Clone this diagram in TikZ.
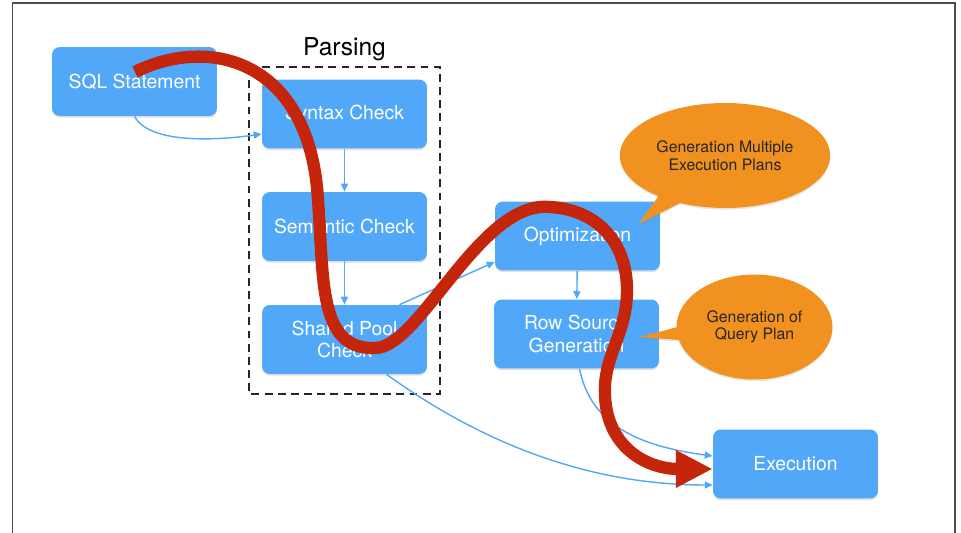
\documentclass[tikz,border=0pt]{standalone}
\usepackage{fontspec}
\setmainfont{TeX Gyre Heros}
\usepackage{xcolor}
\usepackage{tikz}
\usetikzlibrary{positioning,arrows.meta,shapes.callouts,shadows}

\definecolor{stageblue}{RGB}{82,168,248}
\definecolor{noteorange}{RGB}{241,145,32}
\definecolor{pathred}{RGB}{197,37,10}

\begin{document}
\begin{tikzpicture}[
  x=0.02cm, y=-0.02cm,
  stage/.style={rectangle, rounded corners=4.5pt, fill=stageblue,
    minimum width=3.3cm, minimum height=1.38cm, align=center,
    text=white, font=\fontsize{11}{13}\selectfont,
    drop shadow={opacity=0.25, shadow xshift=0pt, shadow yshift=-1pt}},
  bubble/.style={ellipse callout, fill=noteorange, callout pointer arc=14,
    minimum width=3.12cm, minimum height=2.1cm, align=center,
    text=black!85, font=\fontsize{9}{10}\selectfont,
    drop shadow={opacity=0.2, shadow xshift=0pt, shadow yshift=-1pt}},
  flow/.style={-{Triangle[length=4.5pt,width=4pt]}, draw=stageblue, line width=0.8pt},
  parsebox/.style={draw=black!85, line width=0.85pt, dash pattern=on 4.5pt off 3pt},
  journey/.style={-{Triangle[length=21pt,width=20pt]}, draw=pathred, line width=7pt},
  frame/.style={draw=black!70, line width=0.7pt}
]
\useasboundingbox (0,0) rectangle (961,533);

% slide frame
\draw[frame] (12.5,533) -- (12.5,3) -- (955,3) -- (955,533);

% Parsing group
\draw[parsebox] (249,67) rectangle (440,394);
\node[font=\fontsize{14}{16}\selectfont] (parsing) at (344.5,49) {Parsing};

% stages
\node[stage] (sql) at (134.5,81.5) {SQL Statement};
\node[stage] (syntax) at (344.5,114) {Syntax Check};
\node[stage] (semantic) at (344.5,226.5) {Semantic Check};
\node[stage] (shared) at (344.5,339.5) {Shared Pool\\Check};
\node[stage] (opt) at (577.5,236) {Optimization};
\node[stage] (row) at (576.5,334) {Row Source\\Generation};
\node[stage] (exec) at (795.5,464) {Execution};

% notes
\node[bubble, callout absolute pointer={([xshift=-0.44cm,yshift=-0.46cm]opt.north east)}]
  (note1) at (725,155.5) {Generation Multiple\\Execution Plans};
\node[bubble, callout absolute pointer={([xshift=-0.4cm,yshift=-0.06cm]row.east)}]
  (note2) at (754.5,327) {Generation of\\Query Plan};

% flow between stages
\draw[flow] (sql.south) .. controls (150,145) and (220,140) .. ([yshift=-0.4cm]syntax.west);
\draw[flow] (syntax) -- (semantic);
\draw[flow] (semantic) -- (shared);
\draw[flow] ([xshift=1.1cm]shared.north) -- ([yshift=-0.52cm]opt.west);
\draw[flow] (opt) -- (row);
\draw[flow] ([xshift=0.84cm]shared.south) .. controls (450,420) and (560,485) .. ([yshift=-0.42cm]exec.west);
\draw[flow] ([xshift=0.06cm]row.south) .. controls (590,420) and (630,445) .. ([yshift=0.16cm]exec.west);

% the path a statement takes
\coordinate (redstart) at (135,72);
\coordinate (redend) at ([yshift=-0.1cm]exec.west);
\draw[journey] (redstart) .. controls (210,35) and (310,60) .. (318,200)
  .. controls (324,280) and (318,350) .. (375,348)
  .. controls (420,348) and (480,200) .. (550,207)
  .. controls (600,210) and (627,245) .. (627,290)
  .. controls (627,335) and (603,355) .. (605,395)
  .. controls (607,450) and (650,469) .. (redend);

\end{tikzpicture}
\end{document}
